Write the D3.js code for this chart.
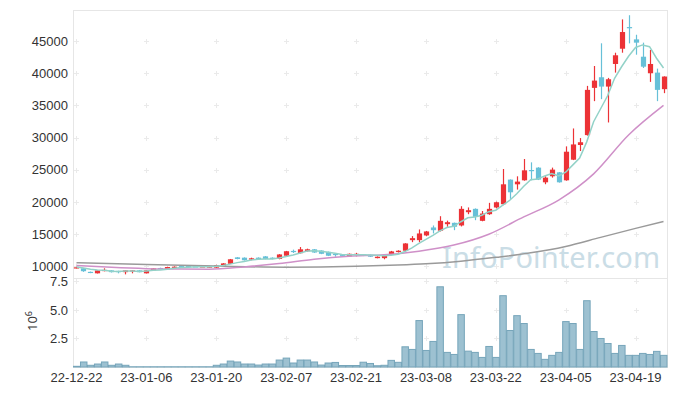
<!DOCTYPE html>
<html lang="en">
  <head>
    <meta charset="UTF-8" />
    <title>Candles</title>
    <style>
      body { margin: 0; background: #fff; }
      svg { display: block; font-family: "Noto Sans", "Open Sans", sans-serif; }
      .tick text { fill: #333; font-size: 13px; }
    </style>
  </head>
  <body>
    <script src="https://cdn.jsdelivr.net/npm/d3@7"></script>
    <script>

      // trading days (KRX), 22-12-22 .. 23-04-25
      var dates = [
        "2022-12-22","2022-12-23","2022-12-26","2022-12-27","2022-12-28","2022-12-29",
        "2023-01-02","2023-01-03","2023-01-04","2023-01-05","2023-01-06","2023-01-09","2023-01-10",
        "2023-01-11","2023-01-12","2023-01-13","2023-01-16","2023-01-17","2023-01-18","2023-01-19",
        "2023-01-20","2023-01-25","2023-01-26","2023-01-27","2023-01-30","2023-01-31",
        "2023-02-01","2023-02-02","2023-02-03","2023-02-06","2023-02-07","2023-02-08","2023-02-09",
        "2023-02-10","2023-02-13","2023-02-14","2023-02-15","2023-02-16","2023-02-17","2023-02-20",
        "2023-02-21","2023-02-22","2023-02-23","2023-02-24","2023-02-27","2023-02-28",
        "2023-03-02","2023-03-03","2023-03-06","2023-03-07","2023-03-08","2023-03-09","2023-03-10",
        "2023-03-13","2023-03-14","2023-03-15","2023-03-16","2023-03-17","2023-03-20","2023-03-21",
        "2023-03-22","2023-03-23","2023-03-24","2023-03-27","2023-03-28","2023-03-29","2023-03-30",
        "2023-03-31","2023-04-03","2023-04-04","2023-04-05","2023-04-06","2023-04-07","2023-04-10",
        "2023-04-11","2023-04-12","2023-04-13","2023-04-14","2023-04-17","2023-04-18","2023-04-19",
        "2023-04-20","2023-04-21","2023-04-24","2023-04-25"
      ];

      var open = [9750,9700,9150,8920,9400,9380,9300,9100,9200,9380,8920,9380,9750,9540,9850,10050,10050,10000,9950,9850,
        9800,10050,10400,11400,11350,11050,11350,11550,11350,11150,11650,12400,12050,12350,12650,12450,12250,11950,11750,11550,
        11750,11850,11800,11280,11280,11800,12220,12430,14070,14070,14800,16040,15530,16550,16760,16350,18410,18930,17070,18100,
        19140,19650,23470,22740,23360,24960,25330,23050,23990,24600,23360,26560,28840,30380,37710,39360,37910,41420,43790,47150,
        45240,42550,39980,40080,37510];
      var high = [9950,9750,9200,9400,9700,9400,9320,9400,9400,9400,9400,9720,9800,9950,10000,10100,10100,10050,10050,10020,
        10250,10500,11150,11450,11400,11350,11400,11600,11400,11900,12400,12600,13000,12750,12700,12500,12300,12000,11800,12000,
        12100,11900,11850,11550,11750,12400,12500,13600,14700,15730,15500,16350,17790,17100,16800,19340,19150,19000,18600,19860,
        20050,25120,23500,23980,26670,26150,25400,23990,25330,24650,28630,31410,29920,38020,41110,44630,39260,43170,48340,48990,
        45960,44730,43590,40700,39500];
      var low = [9700,9150,8950,8900,9230,9050,8920,8760,8920,9080,8900,9350,9650,9500,9800,9880,9920,9930,9930,9830,
        9780,10000,10380,11100,10900,10950,11100,11100,11100,11100,11600,12080,12000,12300,12100,11900,11600,11500,11600,11500,
        11550,11600,11450,11250,11100,11750,12150,12400,13760,13760,14700,15110,15420,16150,15620,16200,18100,17170,17000,18000,
        19000,19500,20480,21920,23300,23360,23400,22750,23780,23000,23300,26500,27910,30300,35650,35960,32340,40080,43170,44620,
        42860,40800,38640,35650,36890];
      var close = [9850,9250,8980,9380,9450,9100,9100,9380,9380,9100,9380,9690,9690,9900,9950,9900,9950,9970,10000,9980,
        10200,10460,11100,11150,10950,11250,11150,11150,11150,11850,12350,12350,12650,12650,12150,11950,11650,11750,11680,11950,
        11950,11650,11500,11500,11700,12320,12430,13560,14380,15110,15420,15620,17070,16860,16150,18930,18720,17690,18200,18930,
        19950,22740,21500,23160,24910,24870,23470,23780,25020,23050,27800,28930,29270,37400,38840,37910,39050,42770,46380,47000,
        44730,41000,41420,37400,39470];

      // volume, millions of shares
      var volume = [0.06,0.44,0.15,0.26,0.44,0.15,0.26,0.15,0.02,0.02,0.02,0.02,0.02,0.02,0.02,0.02,0.02,0.02,0.02,0.02,
        0.15,0.26,0.52,0.44,0.26,0.26,0.17,0.26,0.26,0.61,0.78,0.35,0.61,0.61,0.44,0.17,0.35,0.40,0.13,0.13,
        0.13,0.42,0.31,0.11,0.15,0.58,0.41,1.77,1.54,4.07,1.45,2.24,7.03,1.28,1.10,4.59,1.39,1.28,0.84,1.80,
        0.84,6.25,3.20,4.50,3.81,1.54,1.19,0.67,1.02,1.28,3.98,3.81,1.54,5.81,3.11,2.50,2.06,1.19,1.89,1.02,
        1.02,1.19,1.10,1.37,1.02];

      // moving averages
      var ma5 = [9900,9750,9550,9450,9380,9230,9200,9280,9280,9210,9270,9390,9450,9550,9720,9830,9880,9930,9950,9960,
        10020,10120,10350,10580,10770,10980,11120,11130,11130,11310,11530,11770,12070,12370,12430,12350,12210,12030,11840,11800,
        11800,11800,11750,11710,11660,11730,11890,12300,12880,13560,14180,14820,15520,16020,16220,16930,17550,17670,17940,18490,
        18700,19500,20260,21260,22450,23440,23580,24040,24410,24040,24620,25720,26810,29290,32450,34470,36490,39190,40990,42620,
        43990,44380,44110,42310,40800];
      var ma20Idx = [0,5,10,15,19,24,29,34,39,44,49,54,59,64,69,74,79,84];
      var ma20 = [10150,9850,9650,9580,9570,9920,10440,11120,11580,11800,12360,13310,14990,17680,20300,24360,30390,34980];
      var ma120Idx = [0,10,20,30,40,46,50,55,60,65,70,75,80,84];
      var ma120 = [10570,10300,10050,9870,10000,10200,10400,10800,11400,12100,13100,14500,15900,16950];

      var priceTicks = [10000,15000,20000,25000,30000,35000,40000,45000];
      var volTicks = [2.5,5.0,7.5];

      var W = 677, H = 396;
      var left = 73, right = 667;
      var pTop = 10, pBot = 277, vTop = 278, vBot = 367;

      var svg = d3.select("body").append("svg")
                  .attr("width", W)
                  .attr("height", H);

      var x = d3.scaleBand()
                .domain(dates)
                .range([left, right])
                .padding(0);
      var bw = x.bandwidth();
      var cx = function(i) { return x(dates[i]) + bw / 2; };

      var yP = d3.scaleLinear().domain([8350, 49800]).range([pBot, pTop]);
      var yV = d3.scaleLinear().domain([0, 7.8]).range([vBot, vTop]);

      var xTicks = dates.filter(function(d, i) { return i % 10 == 0; });

      // frame
      var frame = svg.append("g").attr("stroke", "#e6e6e6").attr("fill", "none");
      frame.append("rect")
           .attr("x", left + 0.5).attr("y", pTop + 0.5)
           .attr("width", right - left).attr("height", vBot - pTop);
      frame.append("line")
           .attr("x1", left).attr("x2", right + 1)
           .attr("y1", vTop + 0.5).attr("y2", vTop + 0.5);

      // grid crosses
      var crossY = priceTicks.map(function(v) { return yP(v); })
                             .concat(volTicks.map(function(v) { return yV(v); }));
      var crosses = [];
      xTicks.forEach(function(d) {
        crossY.forEach(function(yy) { crosses.push([x(d) + bw / 2, yy]); });
      });
      svg.append("g").selectAll("path")
         .data(crosses)
         .enter()
         .append("path")
         .attr("d", function(d) {
           var a = Math.round(d[0]) + 0.5, b = Math.round(d[1]) + 0.5;
           return "M" + (a - 2.5) + "," + b + "H" + (a + 2.5) + "M" + a + "," + (b - 2.5) + "V" + (b + 2.5);
         })
         .attr("stroke", "#eaeaea")
         .attr("stroke-width", 1);

      // watermark
      svg.append("text")
         .attr("x", 442)
         .attr("y", 268)
         .attr("font-size", 29)
         .attr("textLength", 218)
         .attr("fill", "#cadde6")
         .text("InfoPointer.com");

      // volume bars
      svg.append("g").selectAll("rect")
         .data(volume)
         .enter()
         .append("rect")
         .attr("x", function(d, i) { return x(dates[i]) + 0.5; })
         .attr("y", function(d) { return yV(d); })
         .attr("width", bw - 0.5)
         .attr("height", function(d) { return yV(0) - yV(d); })
         .attr("fill", "#9dc1d1")
         .attr("stroke", "#76a5ba")
         .attr("stroke-width", 1);

      // candles
      var up = "#ec3236", down = "#67c0d8";
      var candles = svg.append("g").selectAll("g")
                       .data(dates)
                       .enter()
                       .append("g");
      candles.append("line")
             .attr("x1", function(d, i) { return Math.round(cx(i)) + 0.5; })
             .attr("x2", function(d, i) { return Math.round(cx(i)) + 0.5; })
             .attr("y1", function(d, i) { return yP(high[i]); })
             .attr("y2", function(d, i) { return yP(low[i]); })
             .attr("stroke", function(d, i) { return close[i] >= open[i] ? up : down; })
             .attr("stroke-width", 1.2);
      candles.append("rect")
             .attr("x", function(d, i) { return Math.round(cx(i)) + 0.5 - 2.6; })
             .attr("y", function(d, i) { return yP(Math.max(open[i], close[i])); })
             .attr("width", 5.2)
             .attr("height", function(d, i) {
               return Math.max(1.2, Math.abs(yP(open[i]) - yP(close[i])));
             })
             .attr("fill", function(d, i) { return close[i] >= open[i] ? up : down; });

      // moving average lines
      var line = d3.line()
                   .x(function(d) { return cx(d[0]); })
                   .y(function(d) { return yP(d[1]); });

      svg.append("path")
         .datum(ma120Idx.map(function(i, k) { return [i, ma120[k]]; }))
         .attr("d", line.curve(d3.curveMonotoneX))
         .attr("fill", "none")
         .attr("stroke", "#9a9a9a")
         .attr("stroke-width", 1.5);

      svg.append("path")
         .datum(ma20Idx.map(function(i, k) { return [i, ma20[k]]; }))
         .attr("d", line.curve(d3.curveMonotoneX))
         .attr("fill", "none")
         .attr("stroke", "#cf90c8")
         .attr("stroke-width", 1.5);

      svg.append("path")
         .datum(ma5.map(function(v, i) { return [i, v]; }))
         .attr("d", line.curve(d3.curveLinear))
         .attr("fill", "none")
         .attr("stroke", "#93d2c8")
         .attr("stroke-width", 1.5);

      // axes
      var xAxis = d3.axisBottom(x)
                    .tickValues(xTicks)
                    .tickSize(0)
                    .tickPadding(4)
                    .tickFormat(function(d) { return d.slice(2); });
      svg.append("g")
         .attr("transform", "translate(0," + (vBot + 2) + ")")
         .call(xAxis)
         .call(function(g) { g.select(".domain").remove(); });

      svg.append("g")
         .attr("transform", "translate(" + (left - 5) + ",0)")
         .call(d3.axisLeft(yP).tickValues(priceTicks).tickSize(0).tickPadding(0).tickFormat(d3.format("d")))
         .call(function(g) { g.select(".domain").remove(); });

      svg.append("g")
         .attr("transform", "translate(" + (left - 5) + ",0)")
         .call(d3.axisLeft(yV).tickValues(volTicks).tickSize(0).tickPadding(0).tickFormat(d3.format(".1f")))
         .call(function(g) { g.select(".domain").remove(); });

      var unit = svg.append("text")
                    .attr("transform", "translate(37,321) rotate(-90)")
                    .attr("text-anchor", "middle")
                    .attr("fill", "#333")
                    .attr("font-size", 13)
                    .text("10");
      unit.append("tspan")
          .attr("dy", -5)
          .attr("font-size", 9)
          .text("6");

    </script>
  </body>
</html>
